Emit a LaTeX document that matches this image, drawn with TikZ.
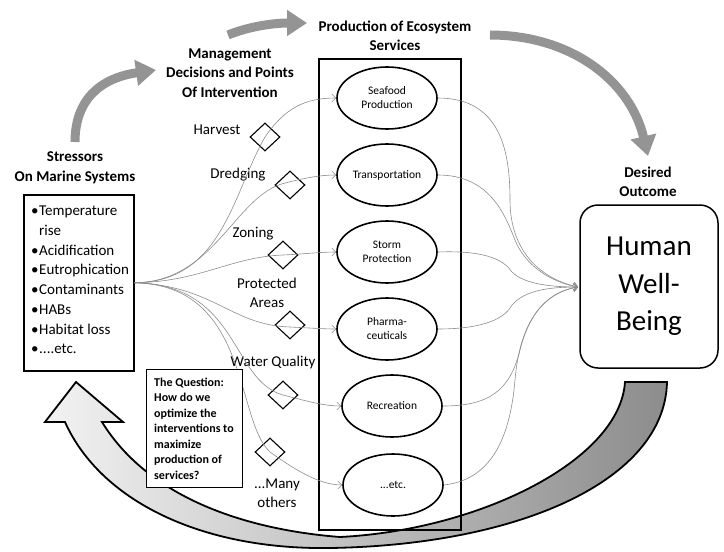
\documentclass[tikz,border=0pt]{standalone}
\usepackage{fontspec}
\setmainfont{Carlito}
\usetikzlibrary{arrows.meta,shapes.geometric}
\newcommand{\bul}{\makebox[8pt][l]{\textbullet}}
\begin{document}
\begin{tikzpicture}[x=1pt,y=-1pt,
  title/.style={font=\fontsize{15}{19.5}\selectfont\bfseries, align=center, inner sep=0pt},
  lbl/.style={font=\fontsize{15}{19.5}\selectfont, align=center, inner sep=0pt},
  svc/.style={draw, line width=1.6pt, ellipse, fill=white, minimum width=100pt,
    minimum height=62pt, inner sep=0pt, font=\fontsize{11.5}{14}\selectfont, align=center},
  lever/.style={draw, line width=1.1pt, diamond, minimum width=30pt, minimum height=28pt, inner sep=0pt},
  link/.style={draw=black!45, line width=0.6pt},
  tipin/.style={-{Straight Barb[length=4pt,width=8pt]}},
  flow/.style={draw=black!42, line width=9pt, -{Triangle[width=25pt,length=20pt]}},
  frame/.style={draw, line width=1.5pt, inner sep=0pt},
]
\useasboundingbox (0,0) rectangle (724,552);

% feedback arrow from the outcome back to the stressors
\path[draw=black, line width=1.8pt, left color=black!5, right color=black!45]
  (76,382) -- (123,422) -- (102,422)
  .. controls (150,500) and (250,530) .. (340,537)
  .. controls (480,530) and (620,460) .. (625,382)
  -- (667,382)
  .. controls (665,480) and (520,545) .. (330,548)
  .. controls (200,550) and (100,500) .. (65,422)
  -- (45,422) -- cycle;

% headings
\node[title] (stitle) at (75,168) {Stressors\\On Marine Systems};
\node[title] (mtitle) at (230,73) {Management\\Decisions and Points\\Of Intervention};
\node[title] (ptitle) at (395,36) {Production of Ecosystem\\Services};
\node[title] (dtitle) at (648,182) {Desired\\Outcome};

% stressors
\node[frame, fill=white, anchor=north west, minimum width=110pt, minimum height=176pt] (stress) at (23,194) {};
\node[lbl, align=left, anchor=west, font=\fontsize{15}{19.7}\selectfont] (slist) at (31,280)
  {\bul Temperature\\\hphantom{\bul}rise\\\bul Acidification\\\bul Eutrophication\\\bul Contaminants\\\bul HABs\\\bul Habitat loss\\\bul ....etc.};

% ecosystem services
\node[frame, anchor=north west, minimum width=142pt, minimum height=471pt] (pbox) at (318,58) {};
\node[svc] (e1) at (387,98) {Seafood\\Production};
\node[svc] (e2) at (387,175) {Transportation};
\node[svc] (e3) at (387,252) {Storm\\Protection};
\node[svc] (e4) at (387,329) {Pharma-\\ceuticals};
\node[svc] (e5) at (392,406) {Recreation};
\node[svc] (e6) at (393,485) {...etc.};

% outcome
\node[frame, rounded corners=18pt, minimum width=138pt, minimum height=163pt,
  font=\fontsize{29}{37.5}\selectfont, align=center] (hwb) at (649,286.5) {Human\\Well-\\Being};

% points of intervention
\node[lever] (d1) at (265,137) {};
\node[lever] (d2) at (290,185) {};
\node[lever] (d3) at (283,255) {};
\node[lever] (d4) at (290,325) {};
\node[lever] (d5) at (283,395) {};
\node[lever] (d6) at (270,452) {};
\node[lbl] (l1) at (217,130) {Harvest};
\node[lbl] (l2) at (238,175) {Dredging};
\node[lbl] (l3) at (253,234) {Zoning};
\node[lbl] (l4) at (267,293) {Protected\\Areas};
\node[lbl] (l5) at (273,362) {Water Quality};
\node[lbl] (l6) at (277,493) {...Many\\others};

\coordinate (conv) at (578,287);

% stressors -> interventions -> services
\draw[link, tipin] (stress.east) .. controls (222,282) and (232,195) .. (d1.center)
  .. controls (285,108) and (305,98) .. (e1.west);
\draw[link, tipin] (stress.east) .. controls (215,282) and (235,195) .. (285,183)
  .. controls (305,178) and (320,175) .. (e2.west);
\draw[link, tipin] (stress.east) .. controls (200,282) and (230,257) .. (d3.center)
  .. controls (305,254) and (320,252) .. (e3.west);
\draw[link, tipin] (stress.east) .. controls (215,286) and (230,325) .. (290,327)
  .. controls (310,328) and (325,329) .. (e4.west);
\draw[link, tipin] (stress.east) .. controls (240,285) and (230,380) .. (d5.center)
  .. controls (310,402) and (325,406) .. (e5.west);
\draw[link, tipin] (stress.east) .. controls (250,285) and (235,420) .. (d6.center)
  .. controls (295,470) and (320,485) .. (e6.west);

% services -> well-being
\draw[link, tipin] (e1.east) .. controls (500,98) and (510,150) .. (510,200)
  .. controls (510,255) and (545,280) .. (conv);
\draw[link, tipin] (e2.east) .. controls (490,175) and (505,215) .. (515,240)
  .. controls (525,265) and (550,282) .. (conv);
\draw[link, tipin] (e3.east) .. controls (490,250) and (505,262) .. (512,272)
  .. controls (525,285) and (555,287) .. (conv);
\draw[link, tipin] (e4.east) .. controls (485,329) and (505,318) .. (512,305)
  .. controls (525,290) and (550,287) .. (conv);
\draw[link, tipin] (e5.east) .. controls (490,406) and (510,390) .. (520,350)
  .. controls (530,310) and (550,292) .. (conv);
\draw[link, tipin] (e6.east) .. controls (490,480) and (510,440) .. (515,380)
  .. controls (520,320) and (545,292) .. (conv);

% the question
\node[draw, line width=1.2pt, fill=white, anchor=north west, minimum width=96pt, minimum height=118pt, inner sep=0pt] (qbox) at (146,369) {};
\node[anchor=west, align=left, inner sep=0pt, font=\fontsize{12}{15.5}\selectfont\bfseries] (qtext) at (154,428.5)
  {The Question:\\How do we\\optimize the\\interventions to\\maximize\\production of\\services?};

% flow arrows between the headings
\coordinate (a1s) at (75,142);
\coordinate (a1e) at (156,70);
\coordinate (a2s) at (228,35);
\coordinate (a2e) at (307,23);
\coordinate (a3s) at (490,35);
\coordinate (a3e) at (648,156);
\draw[flow] (a1s) .. controls (75,100) and (100,78) .. (a1e);
\draw[flow] (a2s) .. controls (250,26) and (275,23) .. (a2e);
\draw[flow] (a3s) .. controls (570,35) and (630,80) .. (a3e);
\end{tikzpicture}
\end{document}
